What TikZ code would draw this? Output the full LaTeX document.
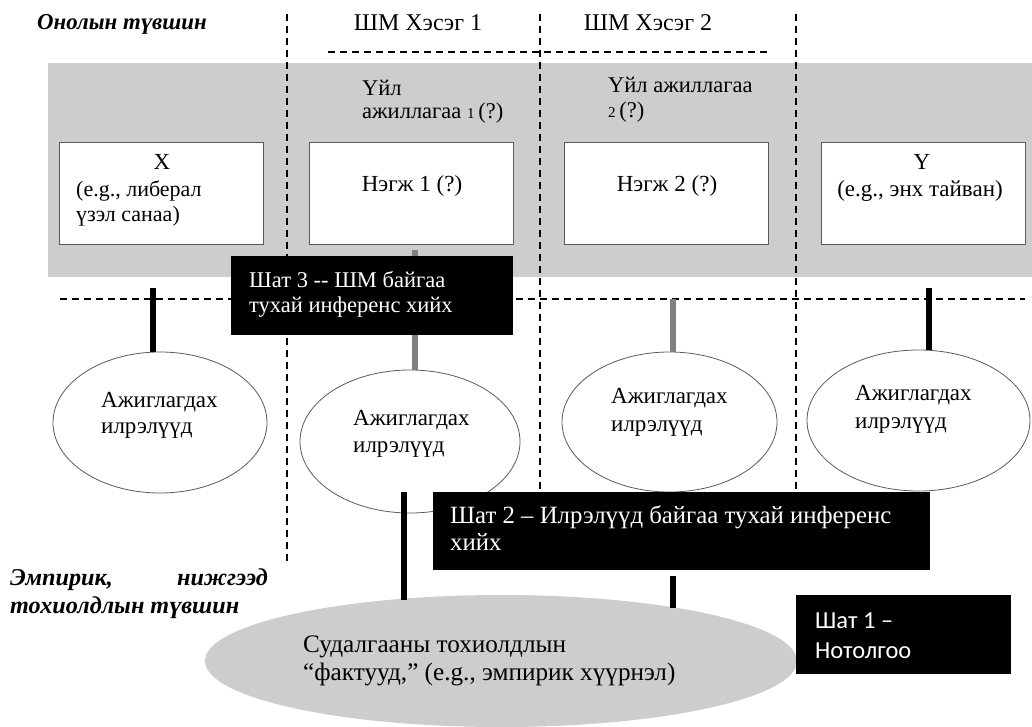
\documentclass[tikz,border=0pt]{standalone}
\usepackage{fontspec}
\setmainfont{Liberation Serif}
\newfontfamily\calib{Carlito}
\usetikzlibrary{shapes.geometric}
\definecolor{bandgray}{RGB}{205,205,205}
\definecolor{bargray}{RGB}{128,128,128}
\definecolor{edgegray}{RGB}{90,90,90}
\begin{document}
\begin{tikzpicture}[x=1pt,y=-1pt,
 dashln/.style={line width=1.4pt, dash pattern=on 7pt off 5pt},
 whitebox/.style={draw=edgegray, line width=0.9pt, fill=white, minimum width=204pt, minimum height=102pt, inner sep=0pt},
 blackbox/.style={fill=black, inner sep=0pt},
 obs/.style={ellipse, draw=edgegray, line width=0.8pt, fill=white, inner sep=0pt},
 txt/.style={anchor=base west, inner sep=0pt, font=\fontsize{23}{26}\selectfont},
 ctxt/.style={anchor=base, inner sep=0pt, font=\fontsize{23}{26}\selectfont},
 wtxt/.style={txt, text=white},
 ctw/.style={anchor=base west, inner sep=0pt, text=white, font=\fontsize{24.5}{26}\calib},
 lvl/.style={anchor=base west, inner sep=0pt, font=\fontsize{22.8}{28}\selectfont\bfseries\itshape},
 emplvl/.style={lvl, font=\fontsize{24.2}{28}\selectfont\bfseries\itshape},
 blackbar/.style={line width=6pt, black},
 graybar/.style={line width=6pt, bargray},
]
\useasboundingbox (0,0) rectangle (1032,727);
% gray band
\fill[bandgray] (48,63) rectangle (1032,277);
% dashed guide lines
\coordinate (v1a) at (287,14); \coordinate (v1b) at (287,565);
\coordinate (v2a) at (540,14); \coordinate (v2b) at (540,490);
\coordinate (v3a) at (796,14); \coordinate (v3b) at (796,490);
\coordinate (h1a) at (328,52); \coordinate (h1b) at (770,52);
\coordinate (h2a) at (60,299); \coordinate (h2b) at (1025,299);
\draw[dashln] (v1a) -- (v1b);
\draw[dashln] (v2a) -- (v2b);
\draw[dashln] (v3a) -- (v3b);
\draw[dashln] (h1a) -- (h1b);
\draw[dashln] (h2a) -- (h2b);
% headings
\node[lvl] (theo) at (37,30) {Онолын түвшин};
\node[ctxt, font=\fontsize{24}{26}\selectfont] (cm1) at (418,31) {ШМ Хэсэг 1};
\node[ctxt, font=\fontsize{24}{26}\selectfont] (cm2) at (648,31) {ШМ Хэсэг 2};
\node[txt, font=\fontsize{22.5}{26}\selectfont] (act1a) at (362,96) {Үйл};
\node[txt, font=\fontsize{22.5}{26}\selectfont] (act1b) at (362,119) {ажиллагаа {\fontsize{15}{15}\selectfont 1}\,(?)};
\node[txt, font=\fontsize{22.5}{26}\selectfont] (act2a) at (608,93) {Үйл ажиллагаа};
\node[txt, font=\fontsize{22.5}{26}\selectfont] (act2b) at (608,118) {{\fontsize{15}{15}\selectfont 2}\,(?)};
% white boxes
\node[whitebox] (xb) at (161,193) {};
\node[whitebox] (n1) at (411.5,193) {};
\node[whitebox] (n2) at (666.5,193) {};
\node[whitebox] (yb) at (923,193) {};
\node[ctxt] (xt1) at (162,170) {X};
\node[txt, font=\fontsize{22}{26}\selectfont] (xt2) at (76,197) {(e.g., либерал};
\node[txt, font=\fontsize{22}{26}\selectfont] (xt3) at (76,222) {үзэл санаа)};
\node[ctxt] (n1t) at (412,192) {Нэгж 1 (?)};
\node[ctxt] (n2t) at (667,192) {Нэгж 2 (?)};
\node[ctxt] (yt1) at (922,170) {Y};
\node[ctxt] (yt2) at (920,197) {(e.g., энх тайван)};
% observable ellipses
\node[obs, minimum width=214pt, minimum height=141pt] (e1) at (160,422.5) {};
\node[obs, minimum width=220pt, minimum height=143pt] (e2) at (410,441.5) {};
\node[obs, minimum width=215pt, minimum height=140pt] (e3) at (669.5,422) {};
\node[obs, minimum width=223pt, minimum height=141pt] (e4) at (918.5,420.5) {};
\node[txt] (e1a) at (101,407) {Ажиглагдах};
\node[txt] (e1b) at (101,433) {илрэлүүд};
\node[txt] (e2a) at (353,425) {Ажиглагдах};
\node[txt] (e2b) at (353,452) {илрэлүүд};
\node[txt] (e3a) at (611,403) {Ажиглагдах};
\node[txt] (e3b) at (611,431) {илрэлүүд};
\node[txt] (e4a) at (855,400) {Ажиглагдах};
\node[txt] (e4b) at (855,428) {илрэлүүд};
% connectors between levels
\coordinate (bx) at (153,288);
\coordinate (bn1) at (415,250);
\coordinate (bn2) at (673,299);
\coordinate (by) at (929,288);
\draw[blackbar] (bx) -- (bx |- e1.north);
\draw[graybar] (bn1) -- (bn1 |- e2.north);
\draw[graybar] (bn2) -- (bn2 |- e3.north);
\draw[blackbar] (by) -- (by |- e4.north);
% step 3
\node[blackbox, minimum width=282pt, minimum height=79pt] (s3) at (372,295.5) {};
\node[wtxt, font=\fontsize{22.5}{26}\selectfont] (s3a) at (249,287) {Шат 3 {-}{-} ШМ байгаа};
\node[wtxt, font=\fontsize{22.5}{26}\selectfont] (s3b) at (249,312) {тухай инференс хийх};
% empirical level
\node[emplvl] (emp1) at (10,585) {Эмпирик,};
\node[emplvl, anchor=base east] (emp1b) at (268,585) {нижгээд};
\node[emplvl] (emp2) at (10,613) {тохиолдлын түвшин};
% case facts ellipse
\node[ellipse, fill=bandgray, inner sep=0pt, minimum width=592pt, minimum height=132pt] (big) at (501,661) {};
\node[txt, font=\fontsize{25.2}{28}\selectfont] (bga) at (303,652) {Судалгааны тохиолдлын};
\node[txt, font=\fontsize{25.2}{28}\selectfont] (bgb) at (303,680) {“фактууд,” (e.g., эмпирик хүүрнэл)};
% step 2
\node[blackbox, minimum width=497pt, minimum height=78pt] (s2) at (681.5,531) {};
\node[wtxt, font=\fontsize{24.8}{28}\selectfont] (s2a) at (450,523) {Шат 2 – Илрэлүүд байгаа тухай инференс};
\node[wtxt, font=\fontsize{24.8}{28}\selectfont] (s2b) at (450,550) {хийх};
\coordinate (be2) at (404,492);
\coordinate (bs2) at (673,576);
\draw[blackbar] (be2) -- (be2 |- big.north) -- (404,600);
\draw[blackbar] (bs2) -- (673,608);
% step 1
\node[blackbox, minimum width=215pt, minimum height=79pt] (s1) at (903.5,634.5) {};
\node[ctw] (s1a) at (815,628) {Шат 1 –};
\node[ctw] (s1b) at (815,658) {Нотолгоо};
\end{tikzpicture}
\end{document}
